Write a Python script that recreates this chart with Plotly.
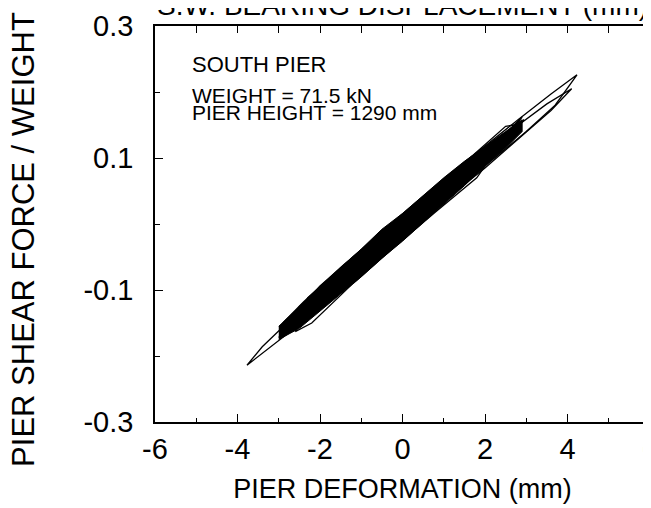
import plotly.graph_objects as go

# dense core of the hysteresis band (outline)
band_x = [-3.0, -2.5, -2.0, -1.5, -1.0, -0.5, 0.0, 0.5, 1.0, 1.5, 2.0, 2.5, 2.9,
          2.9, 2.5, 2.0, 1.5, 1.0, 0.5, 0.0, -0.5, -1.0, -1.5, -2.0, -2.5, -3.0]
band_y = [-0.155, -0.125, -0.095, -0.066, -0.038, -0.008, 0.016, 0.043, 0.070, 0.095, 0.118, 0.140, 0.158,
          0.140, 0.115, 0.088, 0.058, 0.030, 0.003, -0.026, -0.052, -0.080, -0.106, -0.132, -0.158, -0.175]

# individual cycles
loop1_x = [-3.77, -3.4, -2.8, -2.0, -1.0, 0.0, 1.0, 2.0, 3.0, 3.7, 4.23, 3.6, 2.8, 2.0, 1.0, 0.0, -1.0, -2.0, -2.8, -3.4, -3.77]
loop1_y = [-0.214, -0.196, -0.168, -0.128, -0.075, -0.020, 0.033, 0.088, 0.140, 0.180, 0.226, 0.197, 0.158, 0.118, 0.068, 0.015, -0.040, -0.094, -0.150, -0.186, -0.214]

loop2_x = [-3.0, -2.0, -1.0, 0.0, 1.0, 2.0, 3.0, 3.6, 4.1, 3.5, 2.6, 1.5, 0.5, -0.5, -1.5, -2.5, -3.0]
loop2_y = [-0.172, -0.122, -0.070, -0.018, 0.035, 0.085, 0.140, 0.172, 0.205, 0.182, 0.140, 0.085, 0.035, -0.015, -0.068, -0.125, -0.172]

loop3_x = [-2.7, -2.0, -1.0, 0.0, 1.0, 2.0, 2.9, 2.3, 1.2, 0.2, -0.8, -1.8, -2.7]
loop3_y = [-0.160, -0.120, -0.068, -0.015, 0.040, 0.090, 0.162, 0.125, 0.070, 0.018, -0.035, -0.088, -0.160]

loop4_x = [-2.6, -2.2, -1.2, -0.2, 0.8, 1.8, 2.7, 2.5, 1.6, 0.6, -0.4, -1.4, -2.3, -2.6]
loop4_y = [-0.163, -0.150, -0.090, -0.035, 0.018, 0.070, 0.150, 0.148, 0.098, 0.045, -0.008, -0.062, -0.112, -0.163]

loop5_x = [-2.9, -2.4, -1.6, -0.6, 0.4, 1.4, 2.2, 2.95, 2.4, 1.5, 0.5, -0.5, -1.5, -2.4, -2.9]
loop5_y = [-0.150, -0.140, -0.100, -0.045, 0.010, 0.062, 0.104, 0.158, 0.135, 0.090, 0.038, -0.012, -0.066, -0.118, -0.150]

loops = [(loop1_x, loop1_y), (loop2_x, loop2_y), (loop3_x, loop3_y),
         (loop4_x, loop4_y), (loop5_x, loop5_y)]

x_ticks = [-6, -4, -2, 0, 2, 4, 6]
x_labels = ['-6', '-4', '-2', '0', '2', '4', '6']
y_ticks = [-0.3, -0.1, 0.1, 0.3]
y_labels = ['-0.3', '-0.1', '0.1', '0.3']

font = 'Liberation Sans, Arial, Helvetica, sans-serif'

fig = go.Figure()
fig.add_trace(go.Scatter(x=band_x, y=band_y, fill='toself', fillcolor='black',
                         mode='lines', line=dict(color='black', width=1), showlegend=False))
for lx, ly in loops:
    fig.add_trace(go.Scatter(x=lx, y=ly, mode='lines', line=dict(color='black', width=1.3),
                             showlegend=False))

# invisible trace so the top / right axes get drawn
fig.add_trace(go.Scatter(x=[-6, 6], y=[-0.3, 0.3], xaxis='x2', yaxis='y2', mode='markers',
                         marker=dict(opacity=0), showlegend=False, hoverinfo='skip'))

# page body adds 8px, so margins are shifted accordingly
fig.update_layout(
    width=651, height=508,
    margin=dict(l=147, r=9, t=18, b=94),
    plot_bgcolor='white', paper_bgcolor='white',
    font=dict(family=font, color='black'),
    xaxis=dict(range=[-6, 6], tickvals=x_ticks, ticktext=x_labels, ticks='inside', ticklen=8,
               tickwidth=1.2, tickcolor='black', showline=True, linecolor='black', linewidth=1.5,
               showgrid=False, zeroline=False, tickfont=dict(size=29), automargin=False,
               ticklabeloverflow='allow',
               minor=dict(dtick=1, ticks='inside', ticklen=4, tickcolor='black'),
               title=dict(text='PIER DEFORMATION (mm)', font=dict(size=27), standoff=16)),
    yaxis=dict(range=[-0.3, 0.3], tickvals=y_ticks, ticktext=y_labels, ticks='inside', ticklen=8,
               tickwidth=1.2, tickcolor='black', showline=True, linecolor='black', linewidth=1.5,
               showgrid=False, zeroline=False, tickfont=dict(size=29), ticklabelstandoff=14,
               automargin=False, ticklabeloverflow='allow',
               minor=dict(dtick=0.1, tick0=0, ticks='inside', ticklen=5, tickcolor='black')),
    xaxis2=dict(range=[-6, 6], overlaying='x', side='top', dtick=1, tick0=0, ticks='inside',
                ticklen=7, tickcolor='black', showticklabels=False, showline=True, automargin=False,
                linecolor='black', linewidth=1.5, showgrid=False, zeroline=False),
    yaxis2=dict(range=[-0.3, 0.3], overlaying='y', side='right', dtick=0.1, tick0=0, ticks='inside',
                ticklen=6, tickcolor='black', showticklabels=False, showline=True, automargin=False,
                linecolor='black', linewidth=1.5, showgrid=False, zeroline=False),
    annotations=[
        dict(text='PIER SHEAR FORCE / WEIGHT', xref='paper', yref='paper', x=-0.267, y=0.462,
             xanchor='center', yanchor='middle', textangle=-90, showarrow=False, font=dict(size=31)),
        dict(text='S.W. BEARING DISPLACEMENT (mm)', xref='paper', yref='paper', x=0, y=1,
             xanchor='left', yanchor='middle', yshift=21, showarrow=False, font=dict(size=28)),
        dict(text='SOUTH PIER', xref='paper', yref='paper', x=0.0707, y=0.904,
             xanchor='left', yanchor='middle', showarrow=False, font=dict(size=22)),
        dict(text='WEIGHT = 71.5 kN', xref='paper', yref='paper', x=0.0707, y=0.825,
             xanchor='left', yanchor='middle', showarrow=False, font=dict(size=21)),
        dict(text='PIER HEIGHT = 1290 mm', xref='paper', yref='paper', x=0.0707, y=0.781,
             xanchor='left', yanchor='middle', showarrow=False, font=dict(size=21)),
    ],
)

fig.write_html('out.html')
